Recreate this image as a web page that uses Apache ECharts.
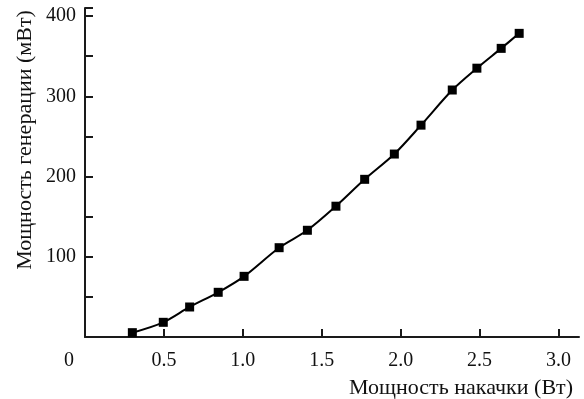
<!DOCTYPE html>
<html>
<head>
<meta charset="utf-8">
<script src="https://cdn.jsdelivr.net/npm/echarts@6/dist/echarts.min.js"></script>
<style>html,body{margin:0;padding:0;background:#fff;}#c{width:584px;height:399px;}</style>
</head>
<body>
<div id="c"></div>
<script>
var pumpPower = [0.30, 0.496, 0.663, 0.844, 1.008, 1.230, 1.409, 1.590, 1.772, 1.960, 2.129, 2.327, 2.483, 2.637, 2.751];
var outputPower = [5.4, 18.3, 37.4, 55.7, 75.6, 111.3, 133, 163, 196.5, 228, 264, 307.8, 335, 359.7, 378.4];
var xTicks = [0.5, 1.0, 1.5, 2.0, 2.5, 3.0];
var yTicks = [100, 200, 300, 400];
var xTitle = 'Мощность накачки (Вт)';
var yTitle = 'Мощность генерации (мВт)';

var FONT = '"Liberation Serif", "DejaVu Serif", serif';
var chart = echarts.init(document.getElementById('c'));
var data = pumpPower.map(function (x, i) { return [x, outputPower[i]]; });
chart.setOption({
  animation: false,
  grid: { left: 85, right: 5, top: 8, bottom: 62, containLabel: false },
  xAxis: {
    type: 'value', min: 0, max: 3.13, interval: 0.5,
    axisLine: { onZero: false, lineStyle: { color: '#1a1a1a', width: 2 } },
    axisTick: { inside: true, length: 8, lineStyle: { color: '#1a1a1a', width: 2 } },
    splitLine: { show: false },
    axisLabel: {
      showMinLabel: false, showMaxLabel: false, margin: 14,
      color: '#111', fontFamily: FONT, fontSize: 20,
      formatter: function (v) { return xTicks.indexOf(Math.round(v * 10) / 10) >= 0 ? v.toFixed(1) : ''; }
    }
  },
  yAxis: {
    type: 'value', min: 0, max: 410, interval: 50,
    axisLine: { show: true, lineStyle: { color: '#1a1a1a', width: 2 } },
    axisTick: { show: true, inside: true, length: 8, lineStyle: { color: '#1a1a1a', width: 2 } },
    splitLine: { show: false },
    axisLabel: {
      margin: 9, color: '#111', fontFamily: FONT, fontSize: 20,
      formatter: function (v) { return yTicks.indexOf(v) >= 0 ? String(v) : ''; }
    }
  },
  graphic: [
    { type: 'text', x: 69, y: 361, style: { text: '0', fontFamily: FONT, fontSize: 20, fill: '#111', align: 'center', verticalAlign: 'middle' } },
    { type: 'text', x: 573, y: 388, style: { text: xTitle, fontFamily: FONT, fontSize: 22, fill: '#111', align: 'right', verticalAlign: 'middle' } },
    { type: 'text', x: 25, y: 140, rotation: Math.PI / 2,
      style: { text: yTitle, fontFamily: FONT, fontSize: 22, fill: '#111', align: 'center', verticalAlign: 'middle' } }
  ],
  series: [{
    type: 'line', data: data, smooth: 0.3,
    symbol: 'rect', symbolSize: 9,
    lineStyle: { color: '#000', width: 2 },
    itemStyle: { color: '#000' }
  }]
});
</script>
</body>
</html>
